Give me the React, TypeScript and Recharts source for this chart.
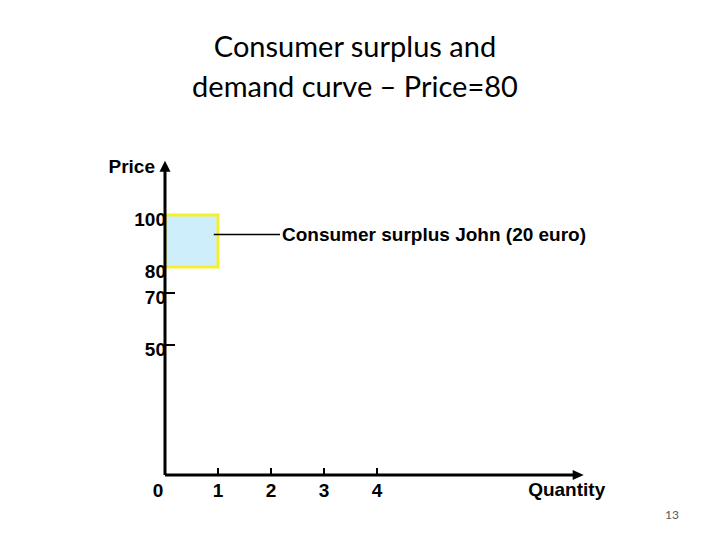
import { ComposedChart, XAxis, YAxis, ReferenceArea, ReferenceLine, ReferenceDot, Scatter } from "recharts";

const quantityTicks = [0, 1, 2, 3, 4];
const priceTicks = [50, 70, 80, 100];
const quantityDomain = [0, 8];
const priceDomain = [0, 120];
// John's surplus box: quantity 0..1, price 80..100
const surplusQuantity = [0, 1];
const surplusPrice = [80, 100];
// callout line from the box to its label
const calloutQuantity = [0.92, 2.17];
const calloutPrice = 92.5;
const calloutText = "Consumer surplus John (20 euro)";
// where the axis arrows end
const axisTips = { quantity: 7.9, price: 120.5 };

const corners = surplusQuantity.flatMap((q) => surplusPrice.map((p) => ({ q, p })));

const labelFont = "'Liberation Sans', Arial, sans-serif";

const PriceTick = (props: any) => {
  const { x, y, payload } = props;
  const v = payload.value;
  // the box hides the marks at 80 and 100
  const hidden = v >= surplusPrice[0] && v <= surplusPrice[1];
  return (
    <g>
      {!hidden && <line x1={x} y1={y} x2={x + 10} y2={y} stroke="#000" strokeWidth={2} />}
      <text x={x + 1} y={y + 11} textAnchor="end" fontFamily={labelFont} fontWeight="bold" fontSize={19} fill="#000">
        {v}
      </text>
    </g>
  );
};

const QuantityTick = (props: any) => {
  const { x, y, payload } = props;
  const v = payload.value;
  return (
    <g>
      {v !== 0 && <line x1={x} y1={y - 7} x2={x} y2={y} stroke="#000" strokeWidth={2} />}
      <text x={v === 0 ? x - 7 : x} y={y + 22} textAnchor="middle" fontFamily={labelFont} fontWeight="bold" fontSize={19} fill="#000">
        {v}
      </text>
    </g>
  );
};

const PriceArrow = (props: any) => {
  const { cx, cy } = props;
  return (
    <g>
      <polygon points={`${cx},${cy - 1} ${cx - 5.5},${cy + 10} ${cx + 5.5},${cy + 10}`} fill="#000" />
      <text x={cx - 10} y={cy + 11} textAnchor="end" fontFamily={labelFont} fontWeight="bold" fontSize={19} fill="#000">
        Price
      </text>
    </g>
  );
};

const QuantityArrow = (props: any) => {
  const { cx, cy } = props;
  return (
    <g>
      <polygon points={`${cx},${cy} ${cx - 11},${cy - 5} ${cx - 11},${cy + 5}`} fill="#000" />
      <text x={cx - 17} y={cy + 21} textAnchor="middle" fontFamily={labelFont} fontWeight="bold" fontSize={19} fill="#000">
        Quantity
      </text>
    </g>
  );
};

export default function App() {
  return (
    <div style={{ position: "absolute", left: 0, top: 0, width: 720, height: 540, background: "#fff" }}>
      <div
        style={{
          position: "absolute",
          left: 0,
          top: 26,
          width: 710,
          textAlign: "center",
          fontFamily: "Lato, 'Open Sans', sans-serif",
          fontSize: 29,
          lineHeight: "40px",
          color: "#000",
        }}
      >
        Consumer surplus and
        <br />
        demand curve – Price=80
      </div>
      <div style={{ position: "absolute", left: 0, top: 0 }}>
        <ComposedChart width={720} height={540} data={corners} margin={{ top: 163, right: 131, bottom: 0, left: 0 }}>
          <XAxis
            type="number"
            dataKey="q"
            domain={quantityDomain}
            ticks={quantityTicks}
            interval={0}
            height={65}
            axisLine={false}
            tickLine={false}
            tickSize={0}
            tickMargin={0}
            tick={<QuantityTick />}
          />
          <YAxis
            type="number"
            dataKey="p"
            domain={priceDomain}
            ticks={priceTicks}
            interval={0}
            width={165}
            axisLine={false}
            tickLine={false}
            tickSize={0}
            tickMargin={0}
            tick={<PriceTick />}
          />
          <Scatter dataKey="p" fill="none" shape={() => <g />} isAnimationActive={false} />
          <ReferenceArea
            x1={surplusQuantity[0]}
            x2={surplusQuantity[1]}
            y1={surplusPrice[0]}
            y2={surplusPrice[1]}
            fill="#cdeefa"
            fillOpacity={1}
            stroke="#f6ef2e"
            strokeWidth={3}
          />
          <ReferenceLine
            segment={[
              { x: calloutQuantity[0], y: calloutPrice },
              { x: calloutQuantity[1], y: calloutPrice },
            ]}
            stroke="#000"
            strokeWidth={1.5}
            label={{ value: calloutText, position: "right", offset: 2, fill: "#000", fontFamily: labelFont, fontWeight: "bold", fontSize: 19 }}
          />
          <ReferenceLine segment={[{ x: 0, y: 0 }, { x: 0, y: axisTips.price - 2 }]} stroke="#000" strokeWidth={3} />
          <ReferenceLine segment={[{ x: 0, y: 0 }, { x: axisTips.quantity - 0.15, y: 0 }]} stroke="#000" strokeWidth={3} />
          <ReferenceDot x={0} y={axisTips.price} ifOverflow="visible" shape={<PriceArrow />} />
          <ReferenceDot x={axisTips.quantity} y={0} ifOverflow="visible" shape={<QuantityArrow />} />
        </ComposedChart>
      </div>
      <div
        style={{
          position: "absolute",
          left: 660,
          top: 507,
          width: 24,
          textAlign: "center",
          fontFamily: "Lato, sans-serif",
          fontSize: 12,
          color: "#595959",
        }}
      >
        13
      </div>
    </div>
  );
}
